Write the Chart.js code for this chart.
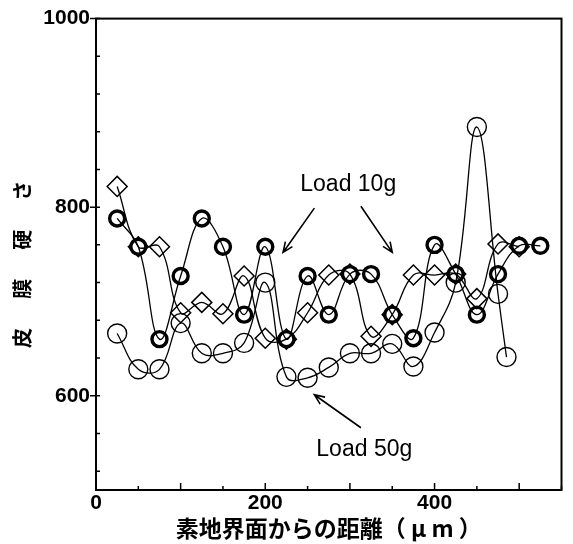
<!DOCTYPE html>
<html>
<head>
<meta charset="utf-8">
<script src="https://cdn.jsdelivr.net/npm/chart.js@4/dist/chart.umd.min.js"></script>
<style>
  html, body { margin: 0; padding: 0; background: #fff; }
  #wrap { width: 573px; height: 544px; }
</style>
</head>
<body>
<div id="wrap"><canvas id="hardness"></canvas></div>
<script>
// distance from substrate interface (um) and film hardness
const distBold = [25, 50, 75, 100, 125, 150, 175, 200, 225, 250, 275, 300, 325, 350, 375, 400, 425, 450, 475, 500, 525];
const hvBold   = [788, 758, 660, 727, 788, 758, 686, 758, 660, 727, 686, 729, 729, 686, 661, 760, 729, 686, 729, 759, 759];

const distDia = [25, 50, 75, 100, 125, 150, 175, 200, 225, 250, 275, 300, 325, 350, 375, 400, 425, 450, 475, 500];
const hvDia   = [822, 758, 758, 688, 699, 687, 727, 661, 660, 688, 728, 729, 663, 686, 728, 728, 729, 703, 761, 758];

const dist50 = [25, 50, 75, 100, 125, 150, 175, 200, 225, 250, 275, 300, 325, 350, 375, 400, 425, 450, 475, 485];
const hv50   = [666, 628, 628, 677, 645, 645, 656, 720, 620, 619, 630, 645, 645, 655, 631, 667, 720, 885, 708, 641];

const xTicks = [0, 50, 100, 150, 200, 250, 300, 350, 400, 450, 500, 550];
const xLabels = [0, 200, 400];
const yTicks = [520, 560, 600, 640, 680, 720, 760, 800, 840, 880, 920, 960, 1000];
const yLabels = [600, 800, 1000];

// callouts, in axis units
const notes = [
  { text: 'Load 10g', x: 298, y: 824 },
  { text: 'Load 50g', x: 317, y: 543 }
];
const arrows = [
  [258, 799, 221, 752],
  [313, 801, 350, 752],
  [313, 566, 258, 601]
];

function pts(xs, ys) {
  return xs.map((x, i) => ({ x: x, y: ys[i] }));
}

const frame = {
  id: 'frame',
  afterDraw(chart) {
    const { ctx, chartArea: a, scales: { x, y } } = chart;
    ctx.save();
    ctx.strokeStyle = '#000';
    ctx.lineWidth = 2;
    ctx.strokeRect(a.left, a.top, a.right - a.left, a.bottom - a.top);

    ctx.lineWidth = 1.5;
    ctx.beginPath();
    x.ticks.forEach(t => {
      const px = x.getPixelForValue(t.value);
      const len = t.value % 100 === 0 ? 7 : 4;
      ctx.moveTo(px, a.bottom);
      ctx.lineTo(px, a.bottom - len);
    });
    y.ticks.forEach(t => {
      const py = y.getPixelForValue(t.value);
      const out = yLabels.includes(t.value) ? 6 : 0;
      ctx.moveTo(a.left - out, py);
      ctx.lineTo(a.left + 4, py);
    });
    ctx.stroke();
    ctx.restore();
  },
  afterDatasetsDraw(chart) {
    const { ctx, scales: { x, y } } = chart;
    ctx.save();
    ctx.fillStyle = '#000';
    ctx.strokeStyle = '#000';
    ctx.font = '23px "Liberation Sans", Arial, sans-serif';
    ctx.textAlign = 'center';
    ctx.textBaseline = 'middle';
    notes.forEach(n => ctx.fillText(n.text, x.getPixelForValue(n.x), y.getPixelForValue(n.y)));

    ctx.lineWidth = 1.6;
    arrows.forEach(([x0, y0, x1, y1]) => {
      const ax = x.getPixelForValue(x0), ay = y.getPixelForValue(y0);
      const bx = x.getPixelForValue(x1), by = y.getPixelForValue(y1);
      const ang = Math.atan2(by - ay, bx - ax);
      ctx.beginPath();
      ctx.moveTo(ax, ay);
      ctx.lineTo(bx, by);
      ctx.moveTo(bx - 11 * Math.cos(ang - 0.4), by - 11 * Math.sin(ang - 0.4));
      ctx.lineTo(bx, by);
      ctx.lineTo(bx - 11 * Math.cos(ang + 0.4), by - 11 * Math.sin(ang + 0.4));
      ctx.stroke();
    });
    ctx.restore();
  }
};

const line = {
  borderColor: '#000',
  backgroundColor: 'rgba(0,0,0,0)',
  pointBorderColor: '#000',
  pointBackgroundColor: 'rgba(0,0,0,0)',
  borderWidth: 1.3,
  tension: 0.4,
  fill: false
};

new Chart(document.getElementById('hardness'), {
  type: 'line',
  data: {
    datasets: [
      Object.assign({}, line, {
        label: 'Load 50g',
        data: pts(dist50, hv50),
        pointStyle: 'circle', pointRadius: 9.5, pointBorderWidth: 1.4
      }),
      Object.assign({}, line, {
        label: 'Load 10g (diamond)',
        data: pts(distDia, hvDia),
        pointStyle: 'rectRot', pointRadius: 10, pointBorderWidth: 1.5
      }),
      Object.assign({}, line, {
        label: 'Load 10g (circle)',
        data: pts(distBold, hvBold),
        pointStyle: 'circle', pointRadius: 7.5, pointBorderWidth: 3.4
      })
    ]
  },
  options: {
    responsive: true,
    maintainAspectRatio: false,
    animation: false,
    layout: { padding: { top: 16, right: 2, left: 0, bottom: 0 } },
    plugins: { legend: { display: false }, tooltip: { enabled: false } },
    scales: {
      x: {
        type: 'linear', min: 0, max: 550,
        afterBuildTicks: s => { s.ticks = xTicks.map(v => ({ value: v })); },
        afterFit: s => { s.height = 54; },
        grid: { display: false, drawTicks: false },
        border: { display: false },
        ticks: {
          autoSkip: false, maxRotation: 0, padding: 1, color: '#000',
          font: { family: 'Liberation Sans', size: 21, weight: 'bold' },
          callback: v => xLabels.includes(v) ? String(v) : ''
        },
        title: {
          display: true, text: '素地界面からの距離（ μ m ）', color: '#000',
          font: { family: 'Noto Sans CJK JP', size: 23, weight: 'bold' },
          padding: { top: 0, bottom: 2 }
        }
      },
      y: {
        type: 'linear', min: 500, max: 1000,
        afterBuildTicks: s => { s.ticks = yTicks.map(v => ({ value: v })); },
        afterFit: s => { s.width = 96; },
        grid: { display: false, drawTicks: false },
        border: { display: false },
        ticks: {
          autoSkip: false, padding: 6, color: '#000',
          font: { family: 'Liberation Sans', size: 21, weight: 'bold' },
          callback: v => yLabels.includes(v) ? String(v) : ''
        },
        title: {
          display: true, text: '皮　  膜　  硬　  さ　', color: '#000',
          font: { family: 'Noto Sans CJK JP', size: 20, weight: 'bold' },
          padding: { top: 10, bottom: 0 }
        }
      }
    }
  },
  plugins: [frame]
});
</script>
</body>
</html>
